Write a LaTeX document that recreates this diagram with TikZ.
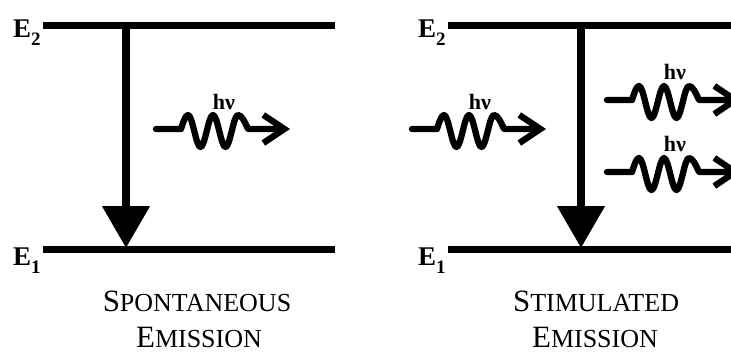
\documentclass[tikz,border=0pt]{standalone}
\usepackage{fontspec}
\setmainfont{Liberation Serif}
\usetikzlibrary{arrows.meta}
\newcommand\fakesc[2]{{\fontsize{31}{31}\selectfont #1}{\fontsize{26}{26}\selectfont #2}}
\newcommand\elabel[1]{E\raisebox{-8pt}{\fontsize{19}{19}\selectfont #1}}
\newcommand\photonpath[2]{\draw[photon] (#1) -- ++(25,0) sin ++(7,-14) cos ++(6.25,16) sin ++(6.25,16) cos ++(6.25,-16) sin ++(6.25,-16) cos ++(6.25,16) sin ++(6.25,16) cos ++(6.25,-16) sin ++(6.25,-16) cos ++(10,14) -- (#2);}
\begin{document}
\begin{tikzpicture}[x=1pt,y=-1pt,
  level/.style={line width=6.5pt},
  decay/.style={line width=8pt,-{Triangle[length=42pt,width=46pt]}},
  photon/.style={line width=6.3pt,line cap=round,line join=round,-{Straight Barb[length=21pt,width=28pt]}},
  elab/.style={font=\bfseries\fontsize{27}{27}\selectfont, inner sep=0pt, anchor=base west},
  hvlab/.style={font=\bfseries\fontsize{22}{22}\selectfont, inner sep=0pt},
  caption/.style={inner sep=0pt, anchor=base}]
\useasboundingbox (0,0) rectangle (731,356);
\clip (0,0) rectangle (731,356);
% ---------- left panel: spontaneous emission
\node[elab] (E2a) at (13,37) {\elabel{2}};
\node[elab] (E1a) at (13,265) {\elabel{1}};
\coordinate (L2s) at (43,25.5); \coordinate (L2e) at (335,25.5);
\coordinate (L1s) at (43,249.5); \coordinate (L1e) at (335,249.5);
\draw[level] (L2s) -- (L2e);
\draw[level] (L1s) -- (L1e);
\coordinate (Dat) at (126,25.5); \coordinate (Dab) at (126,248);
\draw[decay] (Dat) -- (Dab);
\coordinate (Pas) at (156,129); \coordinate (Pae) at (290,129);
\photonpath{Pas}{Pae}
\node[hvlab] (hva) at (224,102) {hν};
\node[caption] (Ca1) at (197,311.5) {\fakesc{S}{PONTANEOUS}};
\node[caption] (Ca2) at (199,347.5) {\fakesc{E}{MISSION}};
% ---------- right panel: stimulated emission
\node[elab] (E2b) at (418,37) {\elabel{2}};
\node[elab] (E1b) at (418,265) {\elabel{1}};
\coordinate (R2s) at (448,25.5); \coordinate (R2e) at (740,25.5);
\coordinate (R1s) at (448,249.5); \coordinate (R1e) at (740,249.5);
\draw[level] (R2s) -- (R2e);
\draw[level] (R1s) -- (R1e);
\coordinate (Dbt) at (581,25.5); \coordinate (Dbb) at (581,248);
\draw[decay] (Dbt) -- (Dbb);
\coordinate (Pbs) at (412,129); \coordinate (Pbe) at (546,129);
\photonpath{Pbs}{Pbe}
\node[hvlab] (hvb) at (480,102) {hν};
\coordinate (Pcs) at (607,100); \coordinate (Pce) at (741,100);
\photonpath{Pcs}{Pce}
\node[hvlab] (hvc) at (675,72) {hν};
\coordinate (Pds) at (607,172); \coordinate (Pde) at (741,172);
\photonpath{Pds}{Pde}
\node[hvlab] (hvd) at (675,144) {hν};
\node[caption] (Cb1) at (596,311.5) {\fakesc{S}{TIMULATED}};
\node[caption] (Cb2) at (595,347.5) {\fakesc{E}{MISSION}};
\end{tikzpicture}
\end{document}
